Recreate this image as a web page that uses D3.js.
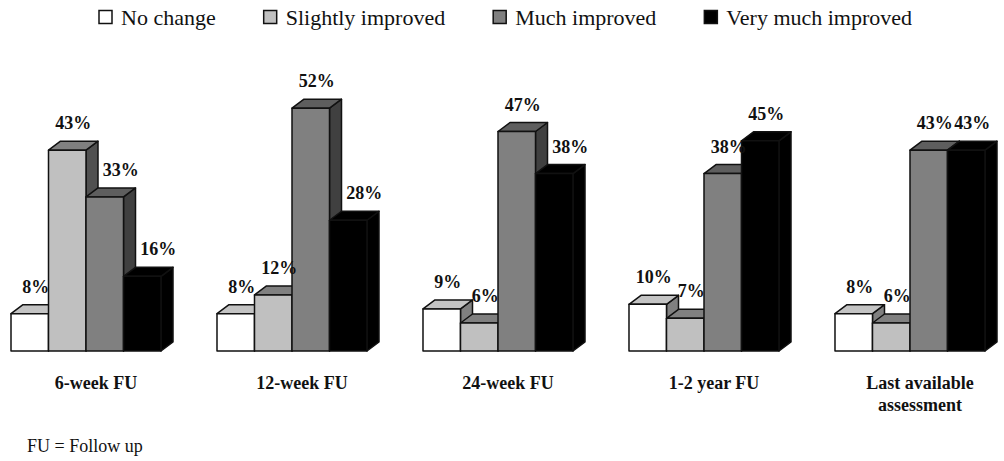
<!DOCTYPE html>
<html>
<head>
<meta charset="utf-8">
<script src="https://cdn.jsdelivr.net/npm/d3@7"></script>
<style>
  html, body { margin: 0; padding: 0; background: #fff; }
  svg { display: block; }
  svg text { font-family: "Liberation Serif", "Times New Roman", Times, serif; }
</style>
</head>
<body>
<svg id="chart" width="1004" height="461"></svg>
<script>
// Follow-up time points (tick labels, one array entry per line)
const categories = ["6-week FU", "12-week FU", "24-week FU", "1-2 year FU", "Last available assessment"];
const categoryLines = [["6-week FU"], ["12-week FU"], ["24-week FU"], ["1-2 year FU"], ["Last available", "assessment"]];

// Response series (% of patients)
const seriesNames = ["No change", "Slightly improved", "Much improved", "Very much improved"];
const noChange      = [8, 8, 9, 10, 8];
const slightly      = [43, 12, 6, 7, 6];
const much          = [33, 52, 47, 38, 43];
const veryMuch      = [16, 28, 38, 45, 43];

const footnote = "FU = Follow up";

const seriesValues = [noChange, slightly, much, veryMuch];

// Face colours for each series: front, top, side
const faces = {
  "No change":          { front: "#ffffff", top: "#c4c4c4", side: "#808080" },
  "Slightly improved":  { front: "#c0c0c0", top: "#808080", side: "#505050" },
  "Much improved":      { front: "#808080", top: "#5e5e5e", side: "#404040" },
  "Very much improved": { front: "#000000", top: "#000000", side: "#000000" }
};

const svg = d3.select("#chart");

// 3-D extrusion offset
const depthX = 12, depthY = -9;

const x0 = d3.scaleBand()
  .domain(categories)
  .range([11, 985])
  .paddingInner(0.2718)
  .paddingOuter(0);

const x1 = d3.scaleBand()
  .domain(seriesNames)
  .range([0, x0.bandwidth()]);

const y = d3.scaleLinear().domain([0, 60]).range([351, 351 - 60 * 4.67]);

const rows = [];
categories.forEach((c, ci) => {
  seriesNames.forEach((s, si) => {
    rows.push({ cat: c, ci, series: s, si, value: seriesValues[si][ci],
                prev: si > 0 ? seriesValues[si - 1][ci] : null });
  });
});

const bars = svg.append("g").attr("class", "bars")
  .selectAll("g.bar")
  .data(rows)
  .join("g")
  .attr("class", "bar");

bars.each(function (d) {
  const g = d3.select(this);
  const xl = x0(d.cat) + x1(d.series);
  const xr = xl + x1.bandwidth();
  const yt = y(d.value);
  const yb = y(0);
  const f = faces[d.series];
  const stroke = { stroke: "#111", "stroke-width": 1.5, "stroke-linejoin": "round" };

  // right side face
  const side = g.append("path")
    .attr("d", `M${xr},${yb}L${xr + depthX},${yb + depthY}L${xr + depthX},${yt + depthY}L${xr},${yt}Z`)
    .attr("fill", f.side);
  // top face
  const top = g.append("path")
    .attr("d", `M${xl},${yt}L${xl + depthX},${yt + depthY}L${xr + depthX},${yt + depthY}L${xr},${yt}Z`)
    .attr("fill", f.top);
  // front face
  const front = g.append("rect")
    .attr("x", xl).attr("y", yt)
    .attr("width", xr - xl).attr("height", yb - yt)
    .attr("fill", f.front);
  [side, top, front].forEach(sel => Object.entries(stroke).forEach(([k, v]) => sel.attr(k, v)));
});

// Value labels
svg.append("g").attr("class", "values")
  .selectAll("text")
  .data(rows)
  .join("text")
  .attr("x", d => {
    const cx = x0(d.cat) + x1(d.series) + x1.bandwidth() / 2 + depthX / 2;
    return (d.prev !== null && d.prev - d.value > 3) ? cx + 10 : cx;
  })
  .attr("y", d => y(d.value) + depthY - 12)
  .attr("text-anchor", "middle")
  .attr("font-weight", "bold")
  .attr("font-size", 18)
  .attr("fill", "#111")
  .text(d => d.value + "%");

// Category labels
const catG = svg.append("g").attr("class", "categories")
  .selectAll("text")
  .data(categories)
  .join("text")
  .attr("x", c => x0(c) + x0.bandwidth() / 2 + depthX / 2 + 4)
  .attr("y", 389)
  .attr("text-anchor", "middle")
  .attr("font-weight", "bold")
  .attr("font-size", 18)
  .attr("fill", "#111");
catG.each(function (c, i) {
  const t = d3.select(this);
  categoryLines[i].forEach((line, li) => {
    t.append("tspan")
      .attr("x", x0(c) + x0.bandwidth() / 2 + depthX / 2 + 4)
      .attr("dy", li === 0 ? 0 : 22)
      .text(line);
  });
});

// Legend
const legend = svg.append("g").attr("class", "legend");
let lx = 99;
seriesNames.forEach(s => {
  legend.append("rect")
    .attr("x", lx).attr("y", 10.5)
    .attr("width", 13).attr("height", 13)
    .attr("fill", faces[s].front)
    .attr("stroke", "#111").attr("stroke-width", 1.5);
  const t = legend.append("text")
    .attr("x", lx + 22).attr("y", 25)
    .attr("font-size", 22)
    .attr("fill", "#111")
    .text(s);
  lx += 22 + t.node().getComputedTextLength() + 48;
});

// Footnote
svg.append("text")
  .attr("x", 27).attr("y", 452)
  .attr("font-size", 18)
  .attr("fill", "#111")
  .text(footnote);
</script>
</body>
</html>
